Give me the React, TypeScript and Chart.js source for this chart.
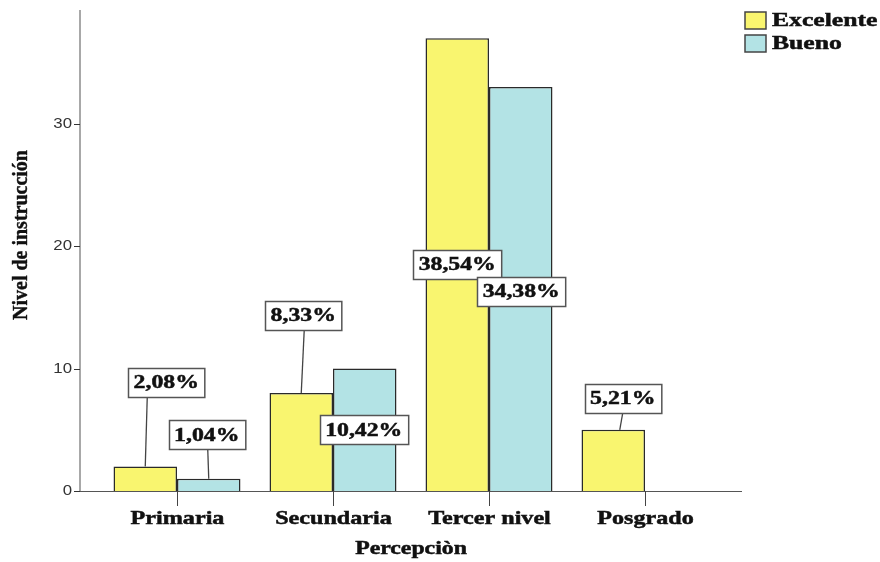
import { useEffect, useRef } from 'react';
import { Chart, registerables } from 'chart.js';

Chart.register(...registerables);

// ---- data ----
const categories = ['Primaria', 'Secundaria', 'Tercer nivel', 'Posgrado'];
const excelente = [2, 8, 37, 5];
const bueno: (number | null)[] = [1, 10, 33, null];
const excelentePct = [2.08, 8.33, 38.54, 5.21];
const buenoPct: (number | null)[] = [1.04, 10.42, 34.38, null];
const yTicks = [0, 10, 20, 30];
const yMax = 39.3;
const seriesNames = ['Excelente', 'Bueno'];
const xTitle = 'Percepciòn';
const yTitle = 'Nivel de instrucción';

// ---- styles ----
const colors = ['#F9F56F', '#B3E3E5'];
const SERIF = '"Liberation Serif", "Times New Roman", serif';
const SANS = '"Liberation Sans", Arial, sans-serif';
const SX = 1.25;

// label placement: mode 'mid' = centred in bar, otherwise offset from bar top with leader line
type Place = { mid?: boolean; dx: number; dy: number; sx?: number; ex?: number };
const placements: Place[][] = [
  [
    { dx: 21, dy: -84, sx: 0, ex: 2 },
    { dx: 2, dy: -78, sx: 0, ex: 3 },
    { mid: true, dx: 0, dy: 0 },
    { dx: 9.5, dy: -31.5, sx: 6.5, ex: 9.5 },
  ],
  [
    { dx: -2, dy: -44, sx: 0, ex: -1 },
    { mid: true, dx: -1, dy: 0 },
    { mid: true, dx: 0.5, dy: 2 },
    { mid: true, dx: 0, dy: 0 },
  ],
];

function sText(ctx: CanvasRenderingContext2D, text: string, x: number, y: number, font: string, sx: number, align: 'left' | 'center' | 'right', heavy = 0) {
  ctx.save();
  ctx.font = font;
  ctx.textBaseline = 'middle';
  ctx.textAlign = 'left';
  const w = ctx.measureText(text).width * sx;
  const left = align === 'center' ? x - w / 2 : align === 'right' ? x - w : x;
  ctx.translate(left, y);
  ctx.scale(sx, 1);
  ctx.fillText(text, 0, 0);
  if (heavy > 0) {
    ctx.strokeStyle = ctx.fillStyle as string;
    ctx.lineWidth = heavy;
    ctx.strokeText(text, 0, 0);
  }
  ctx.restore();
  return w;
}

const fmt = (v: number) => v.toFixed(2).replace('.', ',') + '%';

const decor = {
  id: 'decor',
  beforeDatasetsDraw(chart: any) {
    const ctx: CanvasRenderingContext2D = chart.ctx;
    const xs = chart.scales.x;
    const ys = chart.scales.y;
    const y0 = ys.getPixelForValue(0);
    const yTop = ys.getPixelForValue(yMax);
    ctx.save();
    // y axis line
    ctx.strokeStyle = '#A8A8A8';
    ctx.lineWidth = 2;
    ctx.beginPath();
    ctx.moveTo(80, yTop);
    ctx.lineTo(80, y0);
    ctx.stroke();
    // y ticks
    ctx.strokeStyle = '#333';
    ctx.lineWidth = 1;
    ctx.fillStyle = '#333';
    for (const t of yTicks) {
      const py = Math.round(ys.getPixelForValue(t)) + 0.5;
      ctx.beginPath();
      ctx.moveTo(74, py);
      ctx.lineTo(80, py);
      ctx.stroke();
      sText(ctx, String(t), 72, py, `14px ${SANS}`, 1.2, 'right');
    }
    // x axis line
    ctx.strokeStyle = '#555';
    ctx.lineWidth = 1.2;
    ctx.beginPath();
    ctx.moveTo(80, Math.round(y0) + 0.5);
    ctx.lineTo(742, Math.round(y0) + 0.5);
    ctx.stroke();
    // x ticks + labels
    ctx.fillStyle = '#111';
    categories.forEach((c, i) => {
      const px = Math.round(xs.getPixelForValue(i)) + 0.5;
      ctx.strokeStyle = '#444';
      ctx.lineWidth = 1;
      ctx.beginPath();
      ctx.moveTo(px, y0);
      ctx.lineTo(px, y0 + 15);
      ctx.stroke();
      sText(ctx, c, px, 519, `bold 19px ${SERIF}`, 1.27, 'center', 0.5);
    });
    // axis titles
    sText(ctx, xTitle, 411, 549, `bold 19px ${SERIF}`, SX, 'center', 0.5);
    ctx.save();
    ctx.translate(22, 235);
    ctx.rotate(-Math.PI / 2);
    ctx.font = `bold 20px ${SERIF}`;
    ctx.textAlign = 'center';
    ctx.textBaseline = 'middle';
    ctx.fillText(yTitle, 0, 0);
    ctx.strokeStyle = '#111';
    ctx.lineWidth = 0.4;
    ctx.strokeText(yTitle, 0, 0);
    ctx.restore();
    // legend
    seriesNames.forEach((n, i) => {
      const by = 12 + i * 23;
      ctx.fillStyle = colors[i];
      ctx.fillRect(745, by, 21, 17);
      ctx.strokeStyle = '#444';
      ctx.lineWidth = 1.5;
      ctx.strokeRect(745, by, 21, 17);
      ctx.fillStyle = '#111';
      sText(ctx, n, 772, by + 9, `bold 19px ${SERIF}`, 1.35, 'left', 0.5);
    });
    ctx.restore();
  },
  afterDatasetsDraw(chart: any) {
    const ctx: CanvasRenderingContext2D = chart.ctx;
    const pcts = [excelentePct, buenoPct];
    ctx.save();
    pcts.forEach((arr, d) => {
      const meta = chart.getDatasetMeta(d);
      arr.forEach((v, i) => {
        if (v == null) return;
        const el = meta.data[i];
        if (!el) return;
        const p = placements[d][i];
        const text = fmt(v);
        ctx.font = `bold 19px ${SERIF}`;
        const tw = ctx.measureText(text).width * SX;
        const bw = tw + 11;
        const bh = 29;
        let cx: number, cy: number;
        if (p.mid) {
          cx = el.x + p.dx;
          cy = (el.y + el.base) / 2 + p.dy;
        } else {
          cx = el.x + p.dx;
          cy = el.y + p.dy;
          // leader line
          ctx.strokeStyle = '#444';
          ctx.lineWidth = 1.3;
          ctx.beginPath();
          ctx.moveTo(el.x + (p.sx || 0), el.y);
          ctx.lineTo(el.x + (p.ex || 0), cy + bh / 2);
          ctx.stroke();
        }
        const bx = Math.round(cx - bw / 2) + 0.5;
        const by = Math.round(cy - bh / 2) + 0.5;
        ctx.fillStyle = '#fff';
        ctx.fillRect(bx, by, bw, bh);
        ctx.strokeStyle = '#555';
        ctx.lineWidth = 1.5;
        ctx.strokeRect(bx, by, bw, bh);
        ctx.fillStyle = '#111';
        sText(ctx, text, cx, cy + 1, `bold 19px ${SERIF}`, SX, 'center', 0.5);
      });
    });
    ctx.restore();
  },
};

export default function App() {
  const ref = useRef<HTMLCanvasElement | null>(null);
  useEffect(() => {
    document.body.style.margin = '0';
    const canvas = ref.current!;
    const chart = new Chart(canvas, {
      type: 'bar',
      data: {
        labels: categories,
        datasets: [
          {
            label: seriesNames[0],
            data: excelente,
            backgroundColor: colors[0],
            borderColor: '#2a2a2a',
            borderWidth: 1.5,
            categoryPercentage: 0.814,
            barPercentage: 1.0,
          },
          {
            label: seriesNames[1],
            data: bueno,
            backgroundColor: colors[1],
            borderColor: '#2a2a2a',
            borderWidth: 1.5,
            categoryPercentage: 0.814,
            barPercentage: 1.0,
          },
        ],
      },
      options: {
        responsive: false,
        animation: false,
        layout: { padding: { left: 99, right: 157, top: 10, bottom: 71 } },
        plugins: { legend: { display: false }, tooltip: { enabled: false } },
        scales: {
          x: { display: false, offset: true },
          y: { display: false, min: 0, max: yMax, ticks: { stepSize: 10 } },
        },
      },
      plugins: [decor],
    });
    return () => chart.destroy();
  }, []);
  return <canvas ref={ref} width={880} height={562} style={{ display: 'block' }} />;
}
